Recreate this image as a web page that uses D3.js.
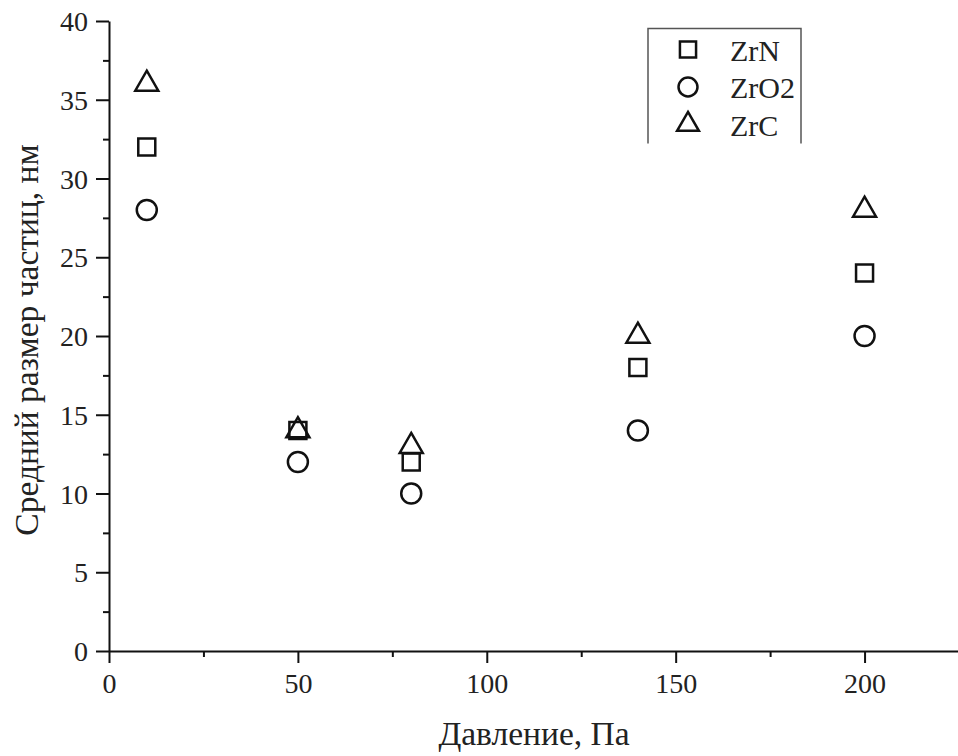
<!DOCTYPE html>
<html>
<head>
<meta charset="utf-8">
<script src="https://cdn.jsdelivr.net/npm/d3@7"></script>
<style>
  body { margin: 0; background: #fff; }
  svg { display: block; }
  svg text { font-family: "Liberation Serif", "DejaVu Serif", "Times New Roman", serif; }
</style>
</head>
<body>
<div id="chart"></div>
<script>
const pressure = [10, 50, 80, 140, 200]
const zrN = [32, 14, 12, 18, 24]
const zrO2 = [28, 12, 10, 14, 20]
const zrC = [36, 14, 13, 20, 28]
const xTicks = [0, 50, 100, 150, 200]
const yTicks = [0, 5, 10, 15, 20, 25, 30, 35, 40]

const series = [
  { name: 'ZrN', values: zrN, symbol: d3.symbolSquare, size: 289 },
  { name: 'ZrO2', values: zrO2, symbol: d3.symbolCircle, size: 314 },
  { name: 'ZrC', values: zrC, symbol: d3.symbolTriangle, size: 229 }
]

const W = 958, H = 756
const MARGIN = { TOP: 21, BOTTOM: 105, LEFT: 109, RIGHT: -1 }
const WIDTH = W - MARGIN.LEFT - MARGIN.RIGHT
const HEIGHT = H - MARGIN.TOP - MARGIN.BOTTOM

const svg = d3.select('#chart')
  .append('svg')
    .attr('width', W)
    .attr('height', H)

const g = svg.append('g')
  .attr('transform', `translate(${MARGIN.LEFT}, ${MARGIN.TOP})`)

const x = d3.scaleLinear().domain([0, 225]).range([0, WIDTH])
const y = d3.scaleLinear().domain([0, 40]).range([HEIGHT, 0])

// minor ticks first so major ones sit on top
const xMinor = d3.range(25, 226, 50)
const yMinor = d3.range(2.5, 40, 5)

g.append('g')
  .attr('transform', `translate(0, ${HEIGHT})`)
  .call(d3.axisBottom(x).tickValues(xMinor).tickSize(6).tickFormat(''))
  .call(a => a.select('.domain').remove())
g.append('g')
  .call(d3.axisLeft(y).tickValues(yMinor).tickSize(6).tickFormat(''))
  .call(a => a.select('.domain').remove())

const xAxis = g.append('g')
  .attr('transform', `translate(0, ${HEIGHT})`)
  .call(d3.axisBottom(x).tickValues(xTicks).tickSize(12).tickSizeOuter(0).tickPadding(10))
const yAxis = g.append('g')
  .call(d3.axisLeft(y).tickValues(yTicks).tickSize(13).tickSizeOuter(0).tickPadding(8))

g.selectAll('g').attr('font-family', null)

g.selectAll('.tick line, .domain')
  .attr('stroke', '#111')
  .attr('stroke-width', 2)

g.selectAll('.tick text')
  .attr('font-size', 28)
  .attr('fill', '#222')

yAxis.selectAll('.tick text').attr('dy', '0.34em')

// axis titles
svg.append('text')
  .attr('x', MARGIN.LEFT + WIDTH / 2)
  .attr('y', 745)
  .attr('text-anchor', 'middle')
  .attr('font-size', 33.5)
  .attr('fill', '#222')
  .text('Давление, Па')

svg.append('text')
  .attr('transform', `translate(38, ${MARGIN.TOP + HEIGHT / 2 + 4}) rotate(-90)`)
  .attr('text-anchor', 'middle')
  .attr('font-size', 33.5)
  .attr('fill', '#222')
  .text('Средний размер частиц, нм')

// points
series.forEach(s => {
  g.append('g')
    .selectAll('path')
    .data(s.values.map((v, i) => ({ p: pressure[i], v })))
    .join('path')
      .attr('d', d3.symbol().type(s.symbol).size(s.size))
      .attr('transform', d => `translate(${x(d.p)}, ${y(d.v)})`)
      .attr('fill', 'none')
      .attr('stroke', '#111')
      .attr('stroke-width', 2.5)
})

// legend: open box, no bottom edge
const legend = svg.append('g').attr('transform', 'translate(648, 28.5)')
legend.append('path')
  .attr('d', 'M0,115V0H153V115')
  .attr('fill', 'none')
  .attr('stroke', '#555')
  .attr('stroke-width', 1.5)

const rows = legend.selectAll('g.row')
  .data(series)
  .join('g')
    .attr('class', 'row')
    .attr('transform', (d, i) => `translate(40, ${21 + i * 37.5})`)

rows.append('path')
  .attr('d', d => d3.symbol().type(d.symbol).size(d.size * 0.9)())
  .attr('fill', 'none')
  .attr('stroke', '#111')
  .attr('stroke-width', 2.5)

rows.append('text')
  .attr('x', 42)
  .attr('y', 11)
  .attr('font-size', 30)
  .attr('fill', '#222')
  .text(d => d.name)
</script>
</body>
</html>
